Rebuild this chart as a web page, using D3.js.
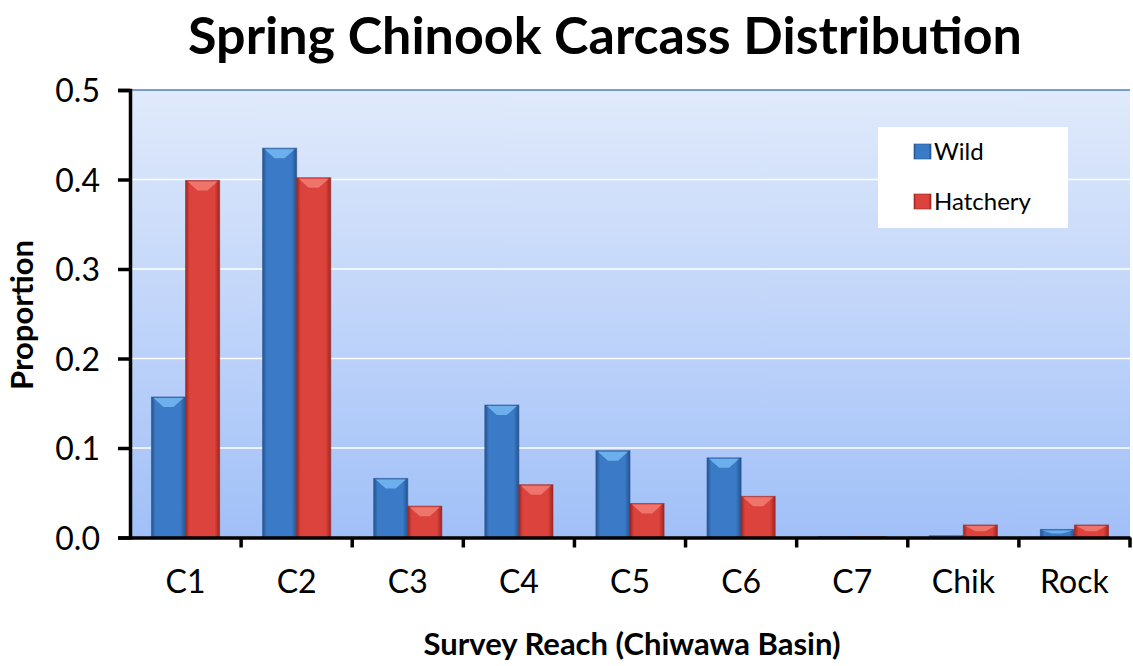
<!DOCTYPE html>
<html>
<head>
<meta charset="utf-8">
<script src="https://cdn.jsdelivr.net/npm/d3@7"></script>
<style>
  body { margin: 0; background: #fff; }
  text { font-family: Lato, "Open Sans", sans-serif; fill: #000; }
</style>
</head>
<body>
<div id="chart"></div>
<script>
// data
const reaches = ['C1', 'C2', 'C3', 'C4', 'C5', 'C6', 'C7', 'Chik', 'Rock'];
const wild = [0.157, 0.435, 0.066, 0.148, 0.097, 0.089, 0.001, 0.002, 0.009];
const hatchery = [0.399, 0.402, 0.035, 0.059, 0.038, 0.046, 0.001, 0.014, 0.014];
const seriesNames = ['Wild', 'Hatchery'];
const yTicks = [0, 0.1, 0.2, 0.3, 0.4, 0.5];

const W = 1133, H = 666;
const margin = {top: 90, right: 3, bottom: 128, left: 130};

// colours for each series: body, edge, top bevel
const palette = {
    Wild: {dark: '#25548f', mid: '#3a7ac6', light: '#77b8f2'},
    Hatchery: {dark: '#9e2621', mid: '#dc433c', light: '#f27d74'}
};

const svg = d3.select('#chart').append('svg')
    .attr('width', W)
    .attr('height', H);

const defs = svg.append('defs');

// plot background gradient
const bg = defs.append('linearGradient')
    .attr('id', 'plotBg')
    .attr('x1', 0).attr('y1', 0).attr('x2', 0).attr('y2', 1);
bg.append('stop').attr('offset', '0%').attr('stop-color', '#e0eafb');
bg.append('stop').attr('offset', '100%').attr('stop-color', '#a1c0f8');

// bar gradients, cylinder-ish look
seriesNames.forEach(name => {
    const c = palette[name];
    const g = defs.append('linearGradient')
        .attr('id', 'bar' + name)
        .attr('x1', 0).attr('y1', 0).attr('x2', 1).attr('y2', 0);
    g.append('stop').attr('offset', '0%').attr('stop-color', c.dark);
    g.append('stop').attr('offset', '12%').attr('stop-color', c.mid);
    g.append('stop').attr('offset', '85%').attr('stop-color', c.mid);
    g.append('stop').attr('offset', '100%').attr('stop-color', c.dark);
});

const x0 = d3.scaleBand()
    .domain(reaches)
    .range([margin.left, W - margin.right])
    .paddingInner(0)
    .paddingOuter(0);

const x1 = d3.scaleBand()
    .domain(seriesNames)
    .range([0, x0.bandwidth()])
    .paddingInner(0)
    .paddingOuter(0.63);

const y = d3.scaleLinear()
    .domain([0, 0.5])
    .range([H - margin.bottom - 0.5, margin.top]);

// plot area
svg.append('rect')
    .attr('x', margin.left)
    .attr('y', margin.top)
    .attr('width', W - margin.right - margin.left)
    .attr('height', y(0) - margin.top)
    .attr('fill', 'url(#plotBg)');

svg.append('line')
    .attr('x1', margin.left).attr('x2', W - margin.right)
    .attr('y1', margin.top).attr('y2', margin.top)
    .attr('stroke', '#4f81bd')
    .attr('stroke-width', 1.5);

// gridlines
svg.append('g')
    .selectAll('line')
    .data(yTicks.filter(t => t > 0 && t < 0.5))
    .join('line')
    .attr('x1', margin.left).attr('x2', W - margin.right)
    .attr('y1', d => y(d)).attr('y2', d => y(d))
    .attr('stroke', '#ffffff')
    .attr('stroke-width', 1.5);

// bars
const rows = reaches.map((r, i) => ({key: r, values: [
    {series: 'Wild', value: wild[i]},
    {series: 'Hatchery', value: hatchery[i]}
]}));

const groups = svg.append('g')
    .selectAll('g')
    .data(rows)
    .join('g')
    .attr('transform', d => `translate(${x0(d.key)},0)`);

const bars = groups.selectAll('g')
    .data(d => d.values)
    .join('g');

bars.append('rect')
    .attr('x', d => x1(d.series))
    .attr('y', d => y(d.value))
    .attr('width', x1.bandwidth())
    .attr('height', d => y(0) - y(d.value))
    .attr('fill', d => `url(#bar${d.series})`)
    .attr('stroke', d => palette[d.series].dark)
    .attr('stroke-opacity', 0.6)
    .attr('stroke-width', 1);

// top bevel highlight
bars.filter(d => y(0) - y(d.value) > 6)
    .append('path')
    .attr('d', d => {
        const bx = x1(d.series), bw = x1.bandwidth(), top = y(d.value);
        const h = Math.min(10, (y(0) - top) / 2);
        return `M${bx + 2},${top + 1} L${bx + bw - 2},${top + 1} L${bx + bw / 2 + 5},${top + h} L${bx + bw / 2 - 5},${top + h} Z`;
    })
    .attr('fill', d => palette[d.series].light)
    .attr('opacity', 0.85);

// axes
const yAxis = svg.append('g')
    .attr('transform', `translate(${margin.left},0)`)
    .call(d3.axisLeft(y).tickValues(yTicks).tickFormat(d3.format('.1f')).tickSize(12).tickPadding(18));

const xAxis = svg.append('g')
    .attr('transform', `translate(0,${y(0)})`)
    .call(d3.axisBottom(x0).tickSize(0).tickPadding(33));

[yAxis, xAxis].forEach(a => {
    a.select('.domain').attr('stroke', '#000').attr('stroke-width', 3.5);
    a.selectAll('.tick line').attr('stroke', '#000').attr('stroke-width', 3.5);
    a.selectAll('text').style('font-size', '32px').attr('fill', '#000');
});
yAxis.selectAll('text').attr('dy', '0.36em');

// category boundary ticks on x
svg.append('g')
    .selectAll('line')
    .data(reaches)
    .join('line')
    .attr('x1', d => x0(d) + x0.bandwidth()).attr('x2', d => x0(d) + x0.bandwidth())
    .attr('y1', y(0)).attr('y2', y(0) + 10)
    .attr('stroke', '#000')
    .attr('stroke-width', 3.5);

// titles
svg.append('text')
    .attr('x', 605).attr('y', 54)
    .attr('text-anchor', 'middle')
    .style('font-size', '52px')
    .style('font-weight', 'bold')
    .text('Spring Chinook Carcass Distribution');

svg.append('text')
    .attr('x', 632).attr('y', 655)
    .attr('text-anchor', 'middle')
    .style('font-size', '31px')
    .style('font-weight', 'bold')
    .text('Survey Reach (Chiwawa Basin)');

svg.append('text')
    .attr('transform', 'translate(33,315) rotate(-90)')
    .attr('text-anchor', 'middle')
    .style('font-size', '31px')
    .style('font-weight', 'bold')
    .text('Proportion');

// legend
const legend = svg.append('g').attr('transform', 'translate(878,127)');
legend.append('rect')
    .attr('width', 190).attr('height', 101)
    .attr('fill', '#ffffff');

const items = legend.selectAll('g')
    .data(seriesNames)
    .join('g')
    .attr('transform', (d, i) => `translate(36,${25 + i * 50})`);

items.append('rect')
    .attr('x', 0).attr('y', -8)
    .attr('width', 17).attr('height', 15)
    .attr('fill', d => `url(#bar${d})`)
    .attr('stroke', d => palette[d].dark)
    .attr('stroke-opacity', 0.6);

items.append('text')
    .attr('x', 20).attr('y', 0)
    .attr('dy', '0.35em')
    .style('font-size', '24px')
    .text(d => d);
</script>
</body>
</html>
